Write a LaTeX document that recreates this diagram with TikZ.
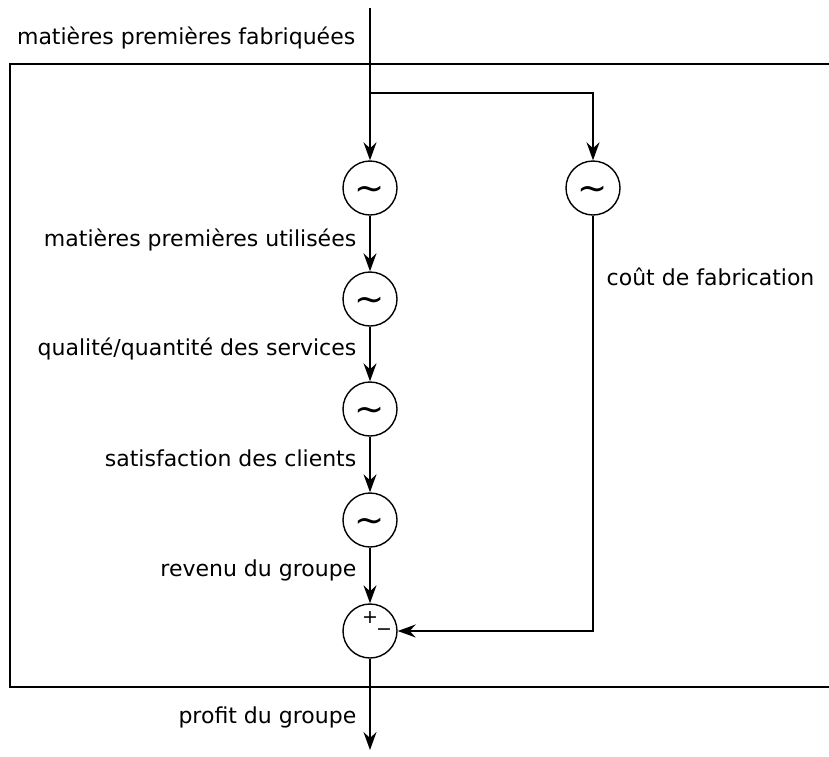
\documentclass[tikz,border=0pt]{standalone}
\usepackage{fontspec}
\setmainfont{DejaVu Sans}
\usetikzlibrary{arrows.meta}
\newcommand{\sinesym}{\raisebox{-5pt}[\height][\depth]{\textasciitilde}}
\begin{document}
\begin{tikzpicture}[x=1pt,y=-1pt,
  line width=1.4pt,
  flow/.style={-{Stealth[length=18pt,width=13pt,inset=6pt]}},
  blk/.style={circle,draw,minimum size=54pt,inner sep=0pt,font=\fontsize{36}{36}\selectfont},
  lbl/.style={font=\fontsize{22}{26}\selectfont,inner sep=0pt}]
\useasboundingbox (0,0) rectangle (829,756);
% frame
\draw (840,64) -- (10,64) -- (10,687) -- (840,687);
% blocks
\node[blk] (c1) at (370,188) {\sinesym};
\node[blk] (c2) at (370,299) {\sinesym};
\node[blk] (c3) at (370,409) {\sinesym};
\node[blk] (c4) at (370,520) {\sinesym};
\node[blk] (r1) at (593,188) {\sinesym};
\node[blk] (c5) at (370,631) {};
\node[font=\fontsize{19}{19}\selectfont,inner sep=0pt] (plus) at (370,618) {+};
\node[font=\fontsize{19}{19}\selectfont,inner sep=0pt] (minus) at (384,632) {−};
\coordinate (top) at (370,8);
\coordinate (split) at (370,93);
\coordinate (out) at (370,750);
% connectors
\draw[flow] (top) -- (c1);
\draw[flow] (split) -| (r1);
\draw[flow] (c1) -- (c2);
\draw[flow] (c2) -- (c3);
\draw[flow] (c3) -- (c4);
\draw[flow] (c4) -- (c5);
\draw[flow] (r1) |- (c5);
\draw[flow] (c5) -- (out);
% labels
\node[lbl,anchor=east] (l0) at (356,38) {matières premières fabriquées};
\node[lbl,anchor=east] (l1) at (357,240) {matières premières utilisées};
\node[lbl,anchor=east] (l2) at (357,349) {qualité/quantité des services};
\node[lbl,anchor=east] (l3) at (357,458) {satisfaction des clients};
\node[lbl,anchor=east] (l4) at (357,570) {revenu du groupe};
\node[lbl,anchor=east] (l5) at (357,717) {profit du groupe};
\node[lbl,anchor=west] (l6) at (606,277) {coût de fabrication};
\end{tikzpicture}
\end{document}
